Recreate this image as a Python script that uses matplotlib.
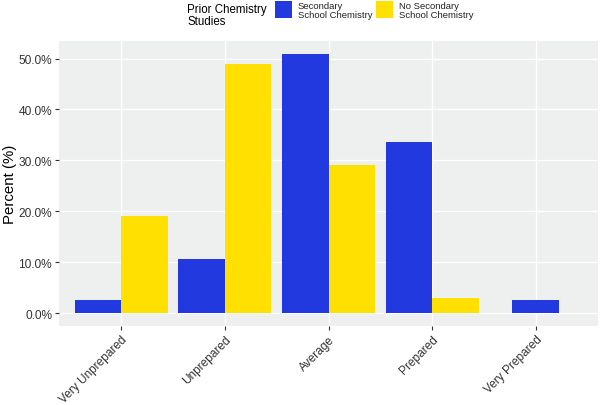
import numpy as np
import matplotlib
matplotlib.use("Agg")
import matplotlib.pyplot as plt
from matplotlib.patches import Rectangle
from matplotlib.ticker import FuncFormatter

plt.rcParams['font.family'] = ['Liberation Sans', 'DejaVu Sans']

categories = ["Very Unprepared", "Unprepared", "Average", "Prepared", "Very Prepared"]
secondary = [2.5, 10.6, 50.9, 33.7, 2.5]
no_secondary = [19.0, 49.0, 29.0, 3.0, np.nan]
series_labels = ["Secondary\nSchool Chemistry", "No Secondary\nSchool Chemistry"]
legend_title = "Prior Chemistry\nStudies"
colors = ["#2339E0", "#FFE000"]

W, H = 600, 406
fig = plt.figure(figsize=(W/100, H/100), dpi=100)
ax = fig.add_axes([59/W, 1 - 327/H, (598-59)/W, (327-42)/H])
ax.set_facecolor("#EDF0EF")
for s in ax.spines.values():
    s.set_visible(False)

bw = 0.45
x = np.arange(len(categories))
series = [secondary, no_secondary]
for i, xi in enumerate(x):
    present = [j for j in range(2) if not np.isnan(series[j][i])]
    n = len(present)
    for k, j in enumerate(present):
        off = (k - (n - 1) / 2) * bw
        ax.bar(xi + off, series[j][i], width=bw, color=colors[j], zorder=3)

ymax = np.nanmax([np.nanmax(secondary), np.nanmax(no_secondary)])
ax.set_xlim(-0.6, len(categories) - 0.4)
ax.set_ylim(-0.05 * ymax, ymax * 1.05)
ax.set_yticks([0, 10, 20, 30, 40, 50])
ax.yaxis.set_major_formatter(FuncFormatter(lambda v, p: f"{v:.1f}%"))
ax.set_xticks(x)
ax.set_xticklabels(categories, rotation=45, ha="right", va="top", rotation_mode="anchor")
ax.grid(True, color="white", linewidth=1.0, zorder=0)
ax.set_axisbelow(True)
ax.tick_params(axis="both", length=3, width=0.8, color="#333333",
               labelcolor="#333333", labelsize=8.6, pad=2)
ax.set_ylabel("Percent (%)", fontsize=10.8, color="black")
ax.yaxis.set_label_coords(-0.077, 0.5)

# legend (manual, ggplot-style horizontal at top)
fig.text(187/W, 1 - 16/H, legend_title, fontsize=8.3, ha="left", va="center",
         linespacing=1.05)
key_x = [275, 376]
txt_x = [298, 399]
for c, kx, tx, lab in zip(colors, key_x, txt_x, series_labels):
    fig.patches.append(Rectangle((kx/W, 1 - 19/H), 17/W, 17/H, transform=fig.transFigure,
                                 facecolor=c, edgecolor="none"))
    fig.text(tx/W, 1 - 11/H, lab, fontsize=6.8, ha="left", va="center",
             linespacing=1.05, color="#222222")

fig.savefig("out.png", dpi=100)
